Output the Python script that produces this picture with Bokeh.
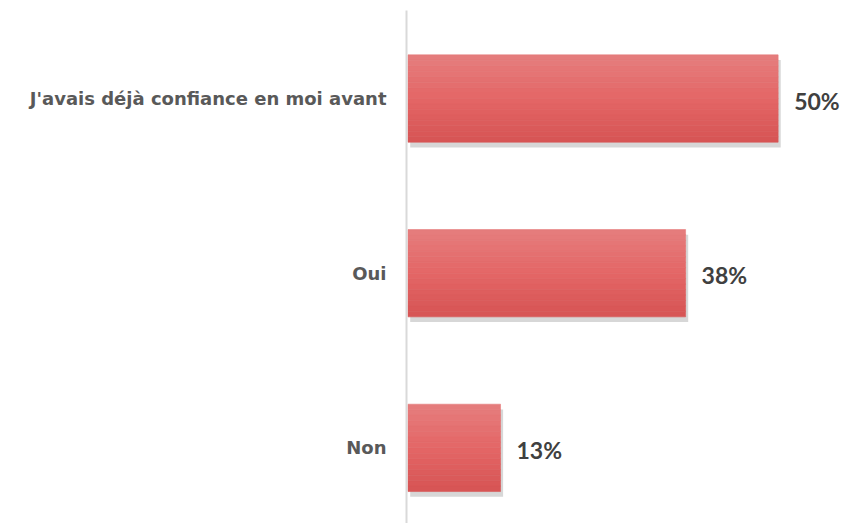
from bokeh.plotting import figure
from bokeh.models import Range1d, ColumnDataSource, FixedTicker
from bokeh.core.properties import value
from bokeh.embed import file_html
from bokeh.resources import INLINE

categories = ["J'avais déjà confiance en moi avant", "Oui", "Non"]
values = [50.0, 37.5, 12.5]
labels = ["50%", "38%", "13%"]

ypos = list(range(len(categories)))
bar_h = 0.5

p = figure(width=845, height=523, output_backend="svg", toolbar_location=None,
           x_range=Range1d(-0.2, 59.1), y_range=Range1d(2.433, -0.504),
           min_border_left=406, min_border_right=0, min_border_top=10, min_border_bottom=0)
p.outline_line_color = None
p.xgrid.visible = False
p.ygrid.visible = False
p.xaxis.visible = False
p.background_fill_color = "white"

# shadow
p.hbar(y=[y + 0.03 for y in ypos], right=[v + 0.35 for v in values], left=0.3,
       height=bar_h, fill_color="#7a7a7a", fill_alpha=0.3, line_color=None)

# gradient bars built from strips
top = (229, 126, 126)
mid = (228, 102, 102)
bot = (214, 84, 84)
N = 16
for k in range(N):
    t = (k + 0.5) / N
    if t < 0.5:
        a, b, u = top, mid, t / 0.5
    else:
        a, b, u = mid, bot, (t - 0.5) / 0.5
    c = tuple(int(round(a[i] + (b[i] - a[i]) * u)) for i in range(3))
    col = "#%02x%02x%02x" % c
    ys = [y - bar_h / 2 + (k + 0.5) * bar_h / N for y in ypos]
    p.hbar(y=ys, right=values, left=0, height=bar_h / N,
           fill_color=col, line_color=col, line_width=0.6)

src = ColumnDataSource(dict(x=values, y=ypos, t=labels))
p.text(x="x", y="y", text="t", source=src, x_offset=16, y_offset=2,
       text_font=value("Lato"), text_font_style="bold", text_font_size="23px",
       text_color="#404040", text_baseline="middle", text_align="left")

p.yaxis.ticker = FixedTicker(ticks=ypos)
p.yaxis.major_label_overrides = {i: c for i, c in enumerate(categories)}
p.yaxis.major_tick_line_color = None
p.yaxis.minor_tick_line_color = None
p.yaxis.axis_line_color = "#d9d9d9"
p.yaxis.axis_line_width = 2
p.yaxis.major_label_standoff = 14
p.yaxis.major_label_text_font = "DejaVu Sans"
p.yaxis.major_label_text_font_style = "bold"
p.yaxis.major_label_text_font_size = "18px"
p.yaxis.major_label_text_color = "#595959"

open("out.html", "w").write(file_html(p, INLINE))
